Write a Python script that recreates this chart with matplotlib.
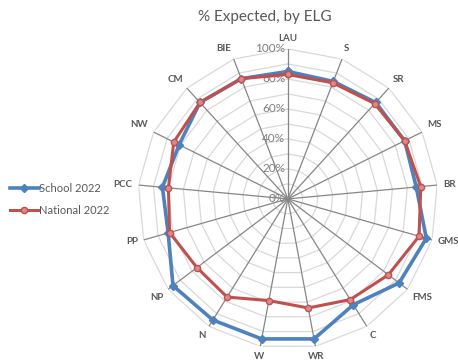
import matplotlib.pyplot as plt
import numpy as np

plt.rcParams['font.family'] = ['Lato', 'DejaVu Sans']

categories = ['LAU', 'S', 'SR', 'MS', 'BR', 'GMS', 'FMS', 'C', 'WR', 'W',
              'N', 'NP', 'PP', 'PCC', 'NW', 'CM', 'BIE']
school = [85, 84, 87, 87, 86, 96, 93, 83, 95, 95, 95, 96, 83, 84, 81, 87, 86]
national = [83, 83, 86, 87, 89, 91, 84, 79, 74, 69, 77, 76, 82, 80, 85, 87, 86]
rticks = [0, 20, 40, 60, 80, 100]

blue = '#4F81BD'
red = '#C0504D'
grey = '#595959'

n = len(categories)
theta = np.arange(n) * 2 * np.pi / n
tclose = np.append(theta, theta[0])

fig = plt.figure(figsize=(4.58, 3.6), dpi=100)
ax = fig.add_axes([0.301, 0.031, 0.655, 0.833], projection='polar')
ax.set_theta_zero_location('N')
ax.set_theta_direction(-1)
ax.set_ylim(0, 100)
ax.grid(False)
ax.set_xticks([])
ax.set_yticks([])
ax.spines['polar'].set_visible(False)

# polygon grid every 10%
for r in range(10, 101, 10):
    ax.plot(tclose, [r] * (n + 1), color='#D9D9D9', lw=0.9, zorder=1)
# spokes
for t in theta:
    ax.plot([t, t], [0, 100], color='#868686', lw=0.9, zorder=2)

ax.plot(tclose, school + school[:1], color=blue, lw=2.6, marker='D',
        ms=4.5, mfc=blue, mec=blue, zorder=4, label='School 2022')
ax.plot(tclose, national + national[:1], color=red, lw=2.2, marker='o',
        ms=4.5, mfc='#D98A88', mec=red, zorder=5, label='National 2022')

for r in rticks:
    ax.annotate(f'{r}%', xy=(0, r), xytext=(-2, 0), textcoords='offset points',
                ha='right', va='center', fontsize=8.5, color='#7F7F7F', zorder=3)

for t, lab in zip(theta, categories):
    s, c = np.sin(t), np.cos(t)
    ha = 'center' if abs(s) < 0.2 else ('left' if s > 0 else 'right')
    va = 'center' if abs(c) < 0.3 else ('bottom' if c > 0 else 'top')
    ax.text(t, 104, lab, ha=ha, va=va, fontsize=7, fontweight='bold', color=grey)

fig.text(265 / 458, 1 - 17 / 360, '% Expected, by ELG', ha='center', va='center',
         fontsize=11, color=grey)

fig.legend(loc='center left', bbox_to_anchor=(0.0, 0.445), frameon=False,
           fontsize=8, handlelength=2.6, handletextpad=0.0, labelspacing=1.0,
           labelcolor=grey)

plt.savefig('out.png', dpi=100)
